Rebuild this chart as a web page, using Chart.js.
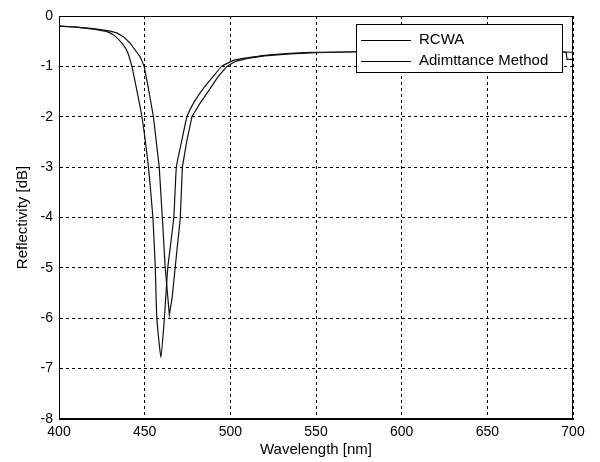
<!DOCTYPE html>
<html>
<head>
<meta charset="utf-8">
<script src="https://cdn.jsdelivr.net/npm/chart.js@4"></script>
<style>
  html, body { margin: 0; padding: 0; background: #fff; }
  #wrap { width: 600px; height: 462px; }
</style>
</head>
<body>
<div id="wrap"><canvas id="grafico"></canvas></div>
<script>
// valores
const lambdaRcwa = [400, 410, 420, 428, 432, 437, 440, 442.5, 445, 448.4, 452.2, 454.8, 456.2, 457.1, 459.5,
  461.5, 463.5, 467, 468.5, 471.5, 474.7, 479, 484, 490, 495, 502, 510, 520, 535, 550, 575, 600, 625, 650, 675, 690, 700]
const reflRcwa = [-0.2, -0.22, -0.26, -0.31, -0.38, -0.55, -0.72, -1.0, -1.4, -2.0, -3.0, -4.0, -5.0, -6.0, -6.78,
  -6.0, -5.0, -4.0, -3.0, -2.5, -2.0, -1.7, -1.45, -1.2, -1.0, -0.88, -0.83, -0.78, -0.74, -0.72, -0.71, -0.7, -0.7, -0.7, -0.71, -0.71, -0.72]

const lambdaAdm = [400, 410, 420, 430, 434, 438, 441.5, 444.5, 447.4, 449.7, 452, 455.1, 458.5, 460.3, 462, 464.4,
  466, 467.8, 470.8, 472, 474.5, 477.6, 482, 487, 493, 498, 503, 510, 520, 535, 550, 575, 600, 625, 650, 675, 690, 696, 696.5, 700]
const reflAdm = [-0.2, -0.22, -0.25, -0.3, -0.34, -0.42, -0.54, -0.68, -0.81, -1.0, -1.4, -2.0, -3.0, -4.0, -5.0, -5.93,
  -5.6, -5.0, -4.0, -3.0, -2.5, -2.0, -1.75, -1.5, -1.2, -1.0, -0.9, -0.84, -0.79, -0.75, -0.73, -0.71, -0.7, -0.7, -0.7, -0.71, -0.71, -0.72, -0.86, -0.86]

const xTicks = [400, 450, 500, 550, 600, 650, 700]
const yTicks = [0, -1, -2, -3, -4, -5, -6, -7, -8]
const nomes = ['RCWA', 'Adimttance Method']

const fonte = '"Liberation Sans", Arial, sans-serif'

function juntaPontos(xs, ys) {
  return xs.map((x, i) => ({ x: x, y: ys[i] }))
}

/* moldura e legenda desenhadas por cima */
const molduraLegenda = {
  id: 'molduraLegenda',
  afterDraw(chart) {
    const ctx = chart.ctx
    const a = chart.chartArea
    ctx.save()
    ctx.strokeStyle = '#000'
    ctx.lineWidth = 1
    ctx.setLineDash([])
    ctx.strokeRect(a.left + 0.5, a.top + 0.5, a.right - a.left - 1, a.bottom - a.top - 1)

    // legenda
    const lx = 356, ly = 24, lw = 206, lh = 48
    ctx.fillStyle = '#fff'
    ctx.fillRect(lx, ly, lw, lh)
    ctx.strokeRect(lx + 0.5, ly + 0.5, lw, lh)
    ctx.font = '15px ' + fonte
    ctx.fillStyle = '#000'
    ctx.textBaseline = 'middle'
    nomes.forEach((nome, i) => {
      const y = ly + 16 + i * 21
      ctx.beginPath()
      ctx.moveTo(lx + 5, y + 0.5)
      ctx.lineTo(lx + 55, y + 0.5)
      ctx.stroke()
      ctx.fillText(nome, lx + 63, y)
    })
    ctx.restore()
  }
}

const graficoCanvas = document.getElementById('grafico')
const grafico = new Chart(graficoCanvas, {
  type: 'line',
  data: {
    datasets: [{
      label: nomes[0],
      data: juntaPontos(lambdaRcwa, reflRcwa),
      borderColor: '#111',
      borderWidth: 1.2,
      pointRadius: 0,
      tension: 0.15
    }, {
      label: nomes[1],
      data: juntaPontos(lambdaAdm, reflAdm),
      borderColor: '#111',
      borderWidth: 1.2,
      pointRadius: 0,
      tension: 0
    }]
  },
  options: {
    responsive: true,
    maintainAspectRatio: false,
    animation: false,
    layout: { padding: { top: 16, right: 27, left: 0, bottom: 0 } },
    plugins: {
      legend: { display: false },
      tooltip: { enabled: false }
    },
    scales: {
      x: {
        type: 'linear',
        min: 400,
        max: 700,
        afterBuildTicks: s => { s.ticks = xTicks.map(v => ({ value: v })) },
        afterFit: s => { s.height = 43 },
        ticks: { color: '#000', font: { family: fonte, size: 14 }, padding: 5, maxRotation: 0 },
        grid: { color: '#000', drawTicks: false },
        border: { display: true, color: '#000', dash: [3, 3] },
        title: { display: true, text: 'Wavelength [nm]', color: '#000', font: { family: fonte, size: 15 }, padding: { top: 0, bottom: 3 } }
      },
      y: {
        type: 'linear',
        min: -8,
        max: 0,
        afterBuildTicks: s => { s.ticks = yTicks.map(v => ({ value: v })) },
        afterFit: s => { s.width = 59 },
        ticks: { color: '#000', font: { family: fonte, size: 14 }, padding: 6 },
        grid: { color: '#000', drawTicks: false },
        border: { display: true, color: '#000', dash: [3, 3] },
        title: { display: true, text: 'Reflectivity [dB]', color: '#000', font: { family: fonte, size: 15 }, padding: { top: 14, bottom: 0 } }
      }
    }
  },
  plugins: [molduraLegenda]
})
</script>
</body>
</html>
